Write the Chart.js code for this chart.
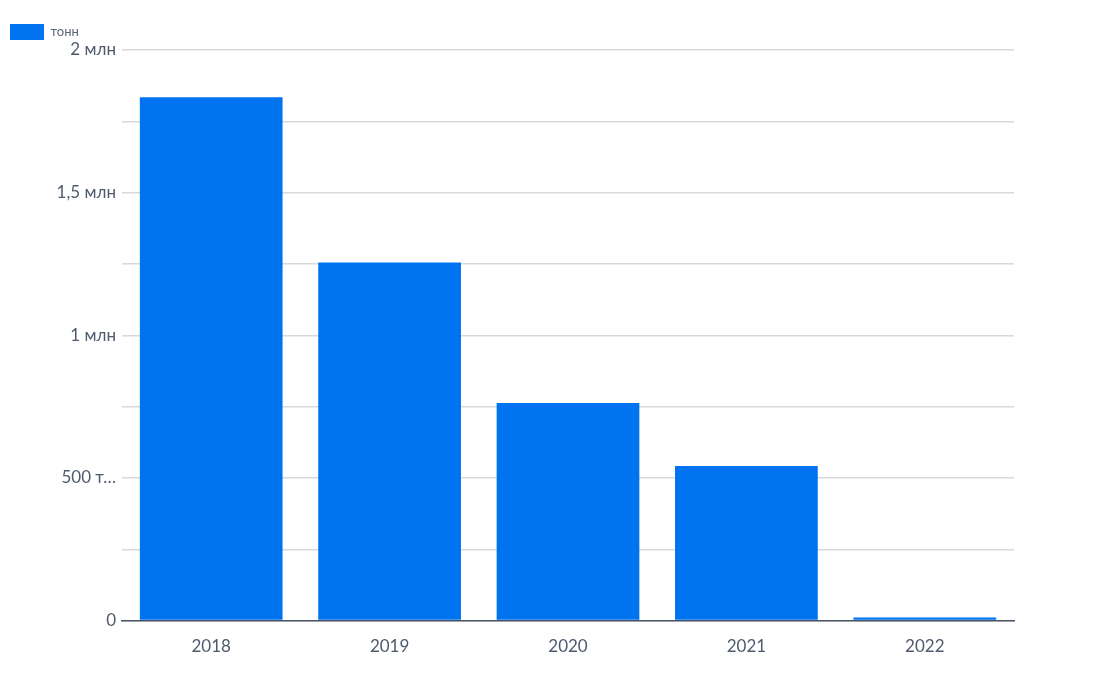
<!DOCTYPE html>
<html>
<head>
<meta charset="utf-8">
<script src="https://cdn.jsdelivr.net/npm/chart.js@4"></script>
<style>
  html, body { margin: 0; padding: 0; background: #fff; }
  #wrap { width: 1110px; height: 679px; }
</style>
</head>
<body>
<div id="wrap"><canvas id="c"></canvas></div>
<script>
const years = ["2018", "2019", "2020", "2021", "2022"];
const tonnes = [1834000, 1255000, 763000, 542000, 11000];
const tickLabels = { 0: "0", 500000: "500 т…", 1000000: "1 млн", 1500000: "1,5 млн", 2000000: "2 млн" };

// legend is pushed right so it sits above the plot, like the original
const shiftLegend = {
    id: "shiftLegend",
    afterUpdate(chart) {
        chart.legend.legendHitBoxes.forEach(h => { h.left += 111 })
    }
}

new Chart(document.getElementById("c"), {
    type: "bar",
    data: {
        labels: years,
        datasets: [{
            label: "тонн",
            data: tonnes,
            backgroundColor: "#0073f0",
            barPercentage: 0.8,
            categoryPercentage: 1
        }]
    },
    plugins: [shiftLegend],
    options: {
        responsive: true,
        maintainAspectRatio: false,
        animation: false,
        layout: { padding: { top: 14, right: 96, bottom: 14, left: 0 } },
        plugins: {
            legend: {
                align: "start",
                labels: {
                    boxWidth: 34, boxHeight: 16, padding: 10,
                    color: "#5a6478",
                    font: { family: "Lato", size: 13 }
                }
            },
            tooltip: { enabled: false }
        },
        scales: {
            x: {
                grid: { display: false },
                border: { color: "#4a5568", width: 1.5 },
                ticks: { color: "#505a6e", font: { family: "Lato", size: 17 }, padding: 8 }
            },
            y: {
                min: 0, max: 2000000,
                afterFit(axis) { axis.width = 122 },
                border: { display: false },
                grid: { color: "#d9d9d9", lineWidth: 1.5, drawTicks: true, tickLength: 0 },
                ticks: {
                    stepSize: 250000,
                    color: "#505a6e",
                    font: { family: "Lato", size: 17 },
                    padding: 6,
                    callback: v => tickLabels[v] !== undefined ? tickLabels[v] : ""
                }
            }
        }
    }
})
</script>
</body>
</html>
